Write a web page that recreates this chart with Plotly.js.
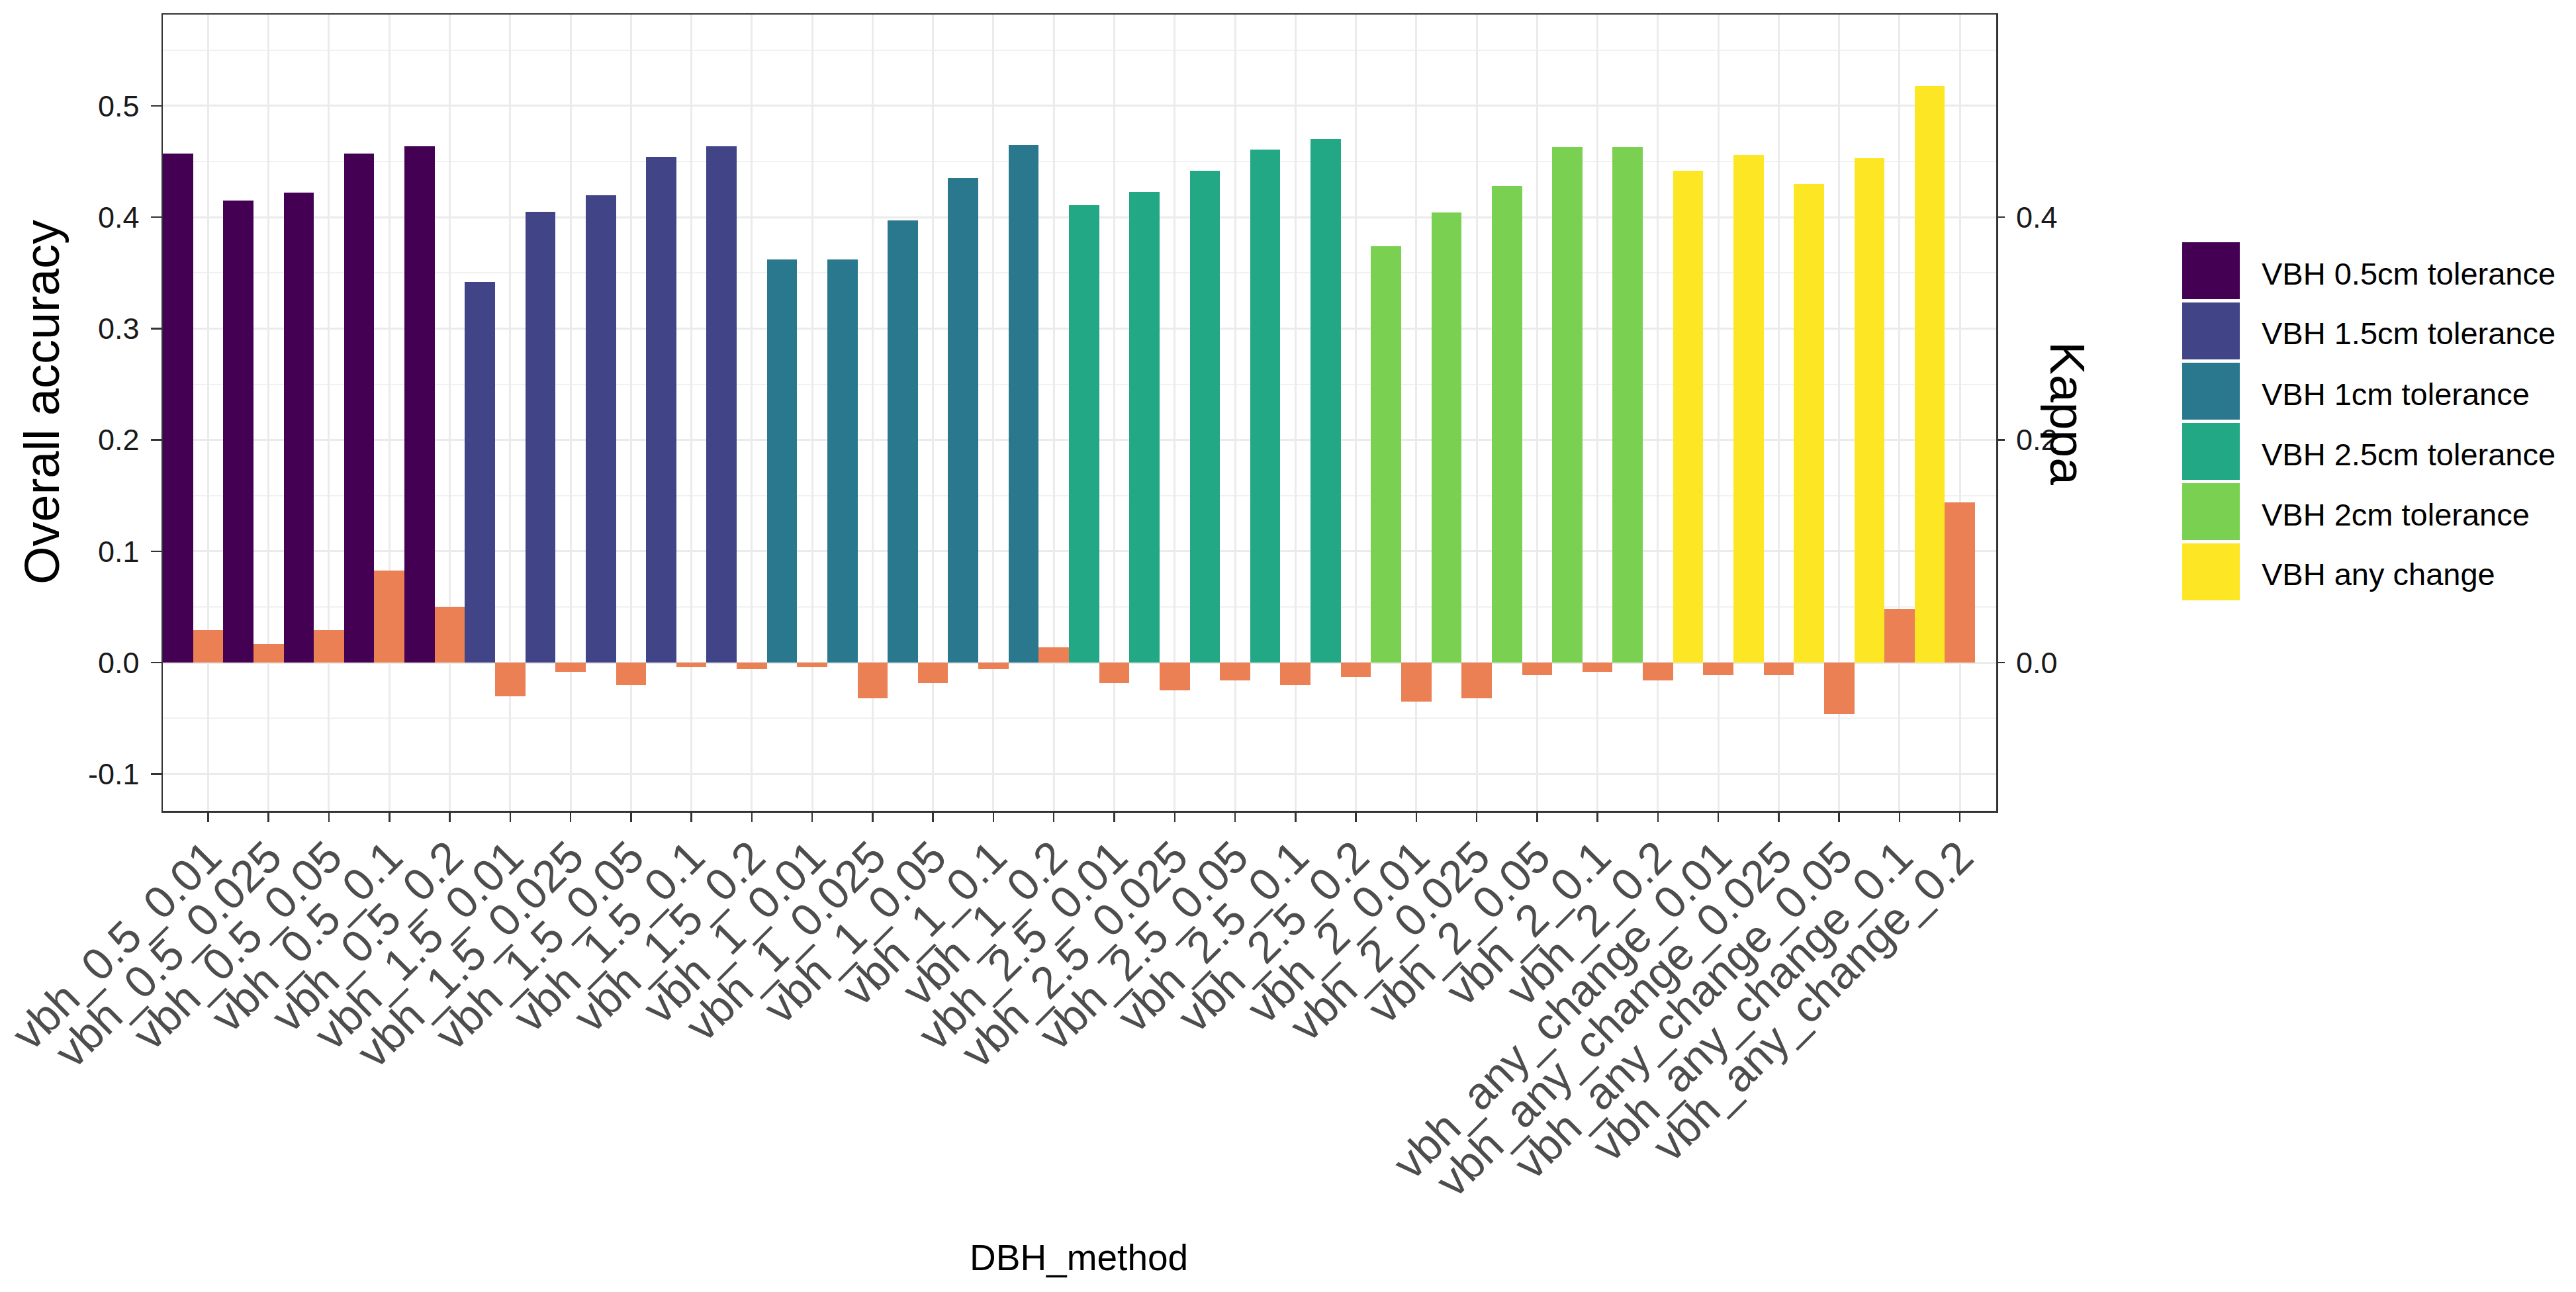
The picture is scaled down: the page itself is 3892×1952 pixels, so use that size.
<!DOCTYPE html>
<html>
<head>
<meta charset="utf-8">
<script src="https://cdn.plot.ly/plotly-3.0.1.min.js"></script>
<style>html,body{margin:0;padding:0;background:#fff;}#chart{width:3892px;height:1952px;}</style>
</head>
<body>
<div id="chart"></div>
<script>
// ---------------- data ----------------
const categories = [
  'vbh_0.5_0.01','vbh_0.5_0.025','vbh_0.5_0.05','vbh_0.5_0.1','vbh_0.5_0.2',
  'vbh_1.5_0.01','vbh_1.5_0.025','vbh_1.5_0.05','vbh_1.5_0.1','vbh_1.5_0.2',
  'vbh_1_0.01','vbh_1_0.025','vbh_1_0.05','vbh_1_0.1','vbh_1_0.2',
  'vbh_2.5_0.01','vbh_2.5_0.025','vbh_2.5_0.05','vbh_2.5_0.1','vbh_2.5_0.2',
  'vbh_2_0.01','vbh_2_0.025','vbh_2_0.05','vbh_2_0.1','vbh_2_0.2',
  'vbh_any_change_0.01','vbh_any_change_0.025','vbh_any_change_0.05','vbh_any_change_0.1','vbh_any_change_0.2'
];
const groupNames = ['VBH 0.5cm tolerance','VBH 1.5cm tolerance','VBH 1cm tolerance','VBH 2.5cm tolerance','VBH 2cm tolerance','VBH any change'];
const groupColors = ['#440154','#414487','#2A788E','#22A884','#7AD151','#FDE725'];
const categoryGroup = [0,0,0,0,0, 1,1,1,1,1, 2,2,2,2,2, 3,3,3,3,3, 4,4,4,4,4, 5,5,5,5,5];
const overallAccuracy = [
  0.457,0.415,0.422,0.457,0.464,
  0.342,0.405,0.420,0.454,0.464,
  0.362,0.362,0.397,0.435,0.465,
  0.411,0.423,0.442,0.461,0.470,
  0.374,0.404,0.428,0.463,0.463,
  0.442,0.456,0.430,0.453,0.518
];
const kappa = [
  0.029,0.017,0.029,0.083,0.050,
  -0.030,-0.008,-0.020,-0.004,-0.006,
  -0.004,-0.032,-0.018,-0.006,0.014,
  -0.018,-0.025,-0.016,-0.020,-0.013,
  -0.035,-0.032,-0.011,-0.008,-0.016,
  -0.011,-0.011,-0.046,0.048,0.144
];
const kappaColor = '#EB8055';
const leftTickVals = [-0.1,0,0.1,0.2,0.3,0.4,0.5];
const leftTickText = ['-0.1','0.0','0.1','0.2','0.3','0.4','0.5'];
const rightTickVals = [0,0.2,0.4];
const rightTickText = ['0.0','0.2','0.4'];

// ---------------- layout helpers ----------------
const W = 3892, H = 1952;
const M = {l:246, r:876, t:22, b:727};
const PW = W - M.l - M.r, PH = H - M.t - M.b;
const px = v => (v - M.l) / PW;
const py = v => (H - M.b - v) / PH;
const FONT = 'Liberation Sans, Arial, sans-serif';
const yRange = [-0.133, 0.582];

// ---------------- traces ----------------
const traces = [];
groupNames.forEach((g, gi) => {
  const xs = [], ys = [];
  categories.forEach((c, i) => { if (categoryGroup[i] === gi) { xs.push(i - 0.5); ys.push(overallAccuracy[i]); } });
  traces.push({type:'bar', name:g, x:xs, y:ys, width:0.5, marker:{color:groupColors[gi], line:{width:0}}, showlegend:false, hoverinfo:'skip'});
});
traces.push({type:'bar', name:'Kappa', x:categories.map((c,i)=>i), y:kappa, width:0.5, yaxis:'y2',
  marker:{color:kappaColor, line:{width:0}}, showlegend:false, hoverinfo:'skip'});

// ---------------- legend (manual, ggplot-like large keys) ----------------
const shapes = [], annotations = [];
groupNames.forEach((g, gi) => {
  const top = 366 + 91 * gi, bot = top + 86;
  shapes.push({type:'rect', xref:'paper', yref:'paper', x0:px(3297), x1:px(3384), y0:py(bot), y1:py(top),
    fillcolor:groupColors[gi], line:{width:0}, layer:'above'});
  annotations.push({xref:'paper', yref:'paper', x:px(3415), y:py((top+bot)/2 + 4), text:g, showarrow:false,
    xanchor:'left', yanchor:'middle', font:{family:FONT, size:47, color:'#000000'}});
});
annotations.push({xref:'paper', yref:'paper', x:px(63), y:py(608), text:'Overall accuracy', textangle:-90, showarrow:false,
  xanchor:'center', yanchor:'middle', font:{family:FONT, size:74, color:'#000000'}});
annotations.push({xref:'paper', yref:'paper', x:px(3124), y:py(624), text:'Kappa', textangle:90, showarrow:false,
  xanchor:'center', yanchor:'middle', font:{family:FONT, size:75, color:'#000000'}});
annotations.push({xref:'paper', yref:'paper', x:px(1630), y:py(1900), text:'DBH_method', showarrow:false,
  xanchor:'center', yanchor:'middle', font:{family:FONT, size:55, color:'#000000'}});

const layout = {
  width:W, height:H, margin:M, paper_bgcolor:'#ffffff', plot_bgcolor:'#ffffff',
  barmode:'overlay', bargap:0, font:{family:FONT},
  xaxis:{type:'linear', range:[-0.75, 29.6], tickmode:'array', tickvals:categories.map((c,i)=>i), ticktext:categories,
    tickangle:-45, tickfont:{family:FONT, size:68, color:'#4D4D4D'}, ticks:'outside', ticklen:14, tickwidth:2.5, tickcolor:'#333333',
    ticklabelstandoff:-14,
    showline:true, linecolor:'#333333', linewidth:2.5, mirror:true, showgrid:true, gridcolor:'#EBEBEB', gridwidth:3, zeroline:false, fixedrange:true},
  yaxis:{range:yRange, tickmode:'array', tickvals:leftTickVals, ticktext:leftTickText,
    tickfont:{family:FONT, size:45, color:'#1A1A1A'}, ticks:'outside', ticklen:16, tickwidth:2.5, tickcolor:'#333333', ticklabelstandoff:8,
    showline:true, linecolor:'#333333', linewidth:2.5, mirror:true, showgrid:true, gridcolor:'#EBEBEB', gridwidth:3, zeroline:false,
    minor:{tickmode:'array', tickvals:[-0.05,0.05,0.15,0.25,0.35,0.45,0.55], showgrid:true, gridcolor:'#F1F1F1', gridwidth:2, ticks:''}, fixedrange:true},
  yaxis2:{overlaying:'y', side:'right', range:yRange, tickmode:'array', tickvals:rightTickVals, ticktext:rightTickText,
    tickfont:{family:FONT, size:45, color:'#1A1A1A'}, ticks:'outside', ticklen:12, tickwidth:2.5, tickcolor:'#333333', ticklabelstandoff:8,
    showline:false, showgrid:false, zeroline:false, fixedrange:true},
  shapes:shapes, annotations:annotations
};
Plotly.newPlot('chart', traces, layout, {displayModeBar:false, staticPlot:true});
</script>
</body>
</html>
